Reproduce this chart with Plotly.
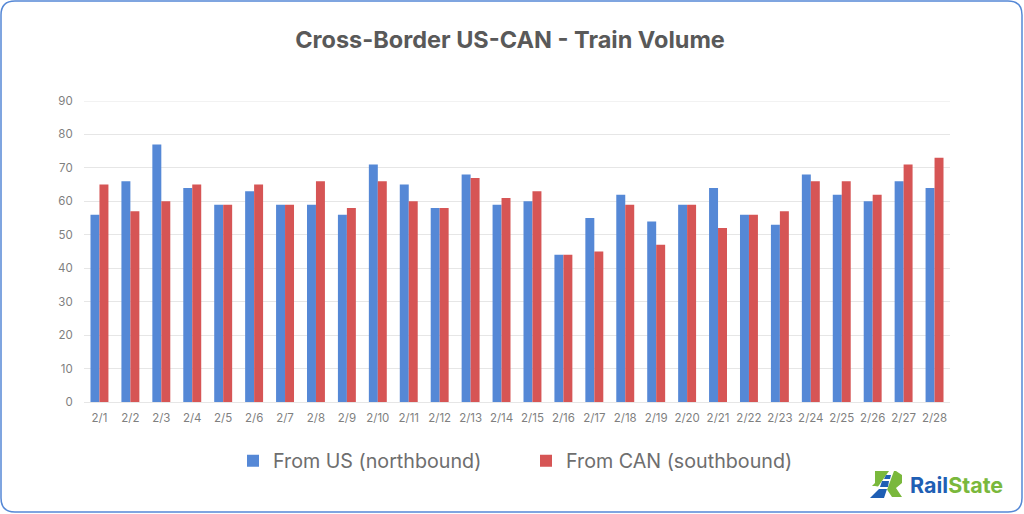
import plotly.graph_objects as go

days = ['2/%d' % d for d in range(1, 29)]
from_us = [56, 66, 77, 64, 59, 63, 59, 59, 56, 71, 65, 58, 68, 59, 60, 44, 55, 62, 54, 59, 64, 56, 53, 68, 62, 60, 66, 64]
from_can = [65, 57, 60, 65, 59, 65, 59, 66, 58, 66, 60, 58, 67, 61, 63, 44, 45, 59, 47, 59, 52, 56, 57, 66, 66, 62, 71, 73]
y_ticks = list(range(0, 100, 10))

W, H = 1024, 514
L, R, T, B = 84, 950, 101, 402

BLUE = '#5588d6'
RED = '#d65555'
GREEN = '#7ab83c'
LOGO_BLUE = '#1f5fb4'
GRID = '#e6e6e6'
CLEAR = 'rgba(0,0,0,0)'


def px(x, y):
    # page pixels to paper coordinates
    return (x - L) / (R - L), (B - y) / (B - T)


def path(points):
    out = ''
    for i, (x, y) in enumerate(points):
        u, v = px(x, y)
        out += ('M' if i == 0 else 'L') + ' %.5f %.5f ' % (u, v)
    return out + 'Z'


def frame_path(x0, y0, x1, y1, r):
    p = lambda x, y: '%.5f %.5f' % px(x, y)
    return ('M ' + p(x0 + r, y0) + ' L ' + p(x1 - r, y0) + ' Q ' + p(x1, y0) + ' ' + p(x1, y0 + r) +
            ' L ' + p(x1, y1 - r) + ' Q ' + p(x1, y1) + ' ' + p(x1 - r, y1) +
            ' L ' + p(x0 + r, y1) + ' Q ' + p(x0, y1) + ' ' + p(x0, y1 - r) +
            ' L ' + p(x0, y0 + r) + ' Q ' + p(x0, y0) + ' ' + p(x0 + r, y0) + ' Z')


def logo_piece(points, color):
    return dict(type='path', xref='paper', yref='paper', line_width=0, fillcolor=color, path=path(points))


fig = go.Figure()
fig.add_trace(go.Bar(x=days, y=from_us, name='From US (northbound)', marker_color=BLUE, marker_line_width=0))
fig.add_trace(go.Bar(x=days, y=from_can, name='From CAN (southbound)', marker_color=RED, marker_line_width=0))

shapes = [
    dict(type='path', xref='paper', yref='paper', path=frame_path(1, 1, 1022, 512, 14),
         line=dict(color=BLUE, width=1.5), layer='below'),
    # plotly leaves out the gridline on the top edge of the plot
    dict(type='line', xref='paper', yref='y', x0=0, x1=1, y0=y_ticks[-1], y1=y_ticks[-1],
         line=dict(color=GRID, width=1), layer='below'),
    # logo
    logo_piece([(875, 471), (896, 471), (902, 475), (902, 483), (896, 488), (902, 497), (892, 497), (886, 488), (875, 486), (872, 486), (875, 483)], GREEN),
    logo_piece([(889, 471), (894, 471), (884, 498), (870, 498)], 'white'),
    logo_piece([(879, 489), (887, 489), (884, 498), (870, 498)], LOGO_BLUE),
    logo_piece([(882, 481), (889, 481), (888, 487), (880, 487)], LOGO_BLUE),
    logo_piece([(886, 475), (891, 475), (890, 479), (884, 479)], LOGO_BLUE),
]

annotations = [
    dict(text='<b><span style="color:%s">Rail</span><span style="color:%s">State</span></b>' % (LOGO_BLUE, GREEN),
         xref='paper', yref='paper', x=px(908, 0)[0], y=px(0, 485)[1],
         xanchor='left', yanchor='middle', showarrow=False, font=dict(family='Inter', size=21.5)),
]

fig.update_layout(
    width=W, height=H, autosize=False,
    margin=dict(l=L, r=W - R, t=T, b=H - B),
    paper_bgcolor='white', plot_bgcolor='white',
    barmode='group', bargap=0.42, bargroupgap=0,
    font=dict(family='Inter', color='#7f7f7f'),
    title=dict(text='<b>Cross-Border US-CAN - Train Volume</b>', x=510 / W, xanchor='center', y=1 - 40 / H, yanchor='middle',
               font=dict(family='Inter', size=23.5, color='#595959')),
    legend=dict(orientation='h', x=px(233, 0)[0], xanchor='left', y=px(0, 461)[1], yanchor='middle',
                font=dict(family='Inter', size=19.7, color='#6e6e6e'), itemwidth=30,
                entrywidth=248, entrywidthmode='pixels', bgcolor=CLEAR),
    shapes=shapes, annotations=annotations,
    xaxis=dict(tickmode='array', tickvals=days, ticktext=days, ticks='outside', ticklen=5, tickcolor=CLEAR, showgrid=False,
               showline=True, linecolor=GRID, linewidth=1, tickfont=dict(size=11.5, color='#7f7f7f')),
    yaxis=dict(range=[0, 90], tickmode='array', tickvals=y_ticks, ticks='outside', ticklen=8, tickcolor=CLEAR,
               gridcolor=GRID, gridwidth=1, zeroline=False, showline=False, tickfont=dict(size=11.5, color='#7f7f7f')),
)

fig.write_html('out.html', config=dict(displayModeBar=False),
               post_script="document.body.style.margin='0';document.body.style.overflow='hidden';")
